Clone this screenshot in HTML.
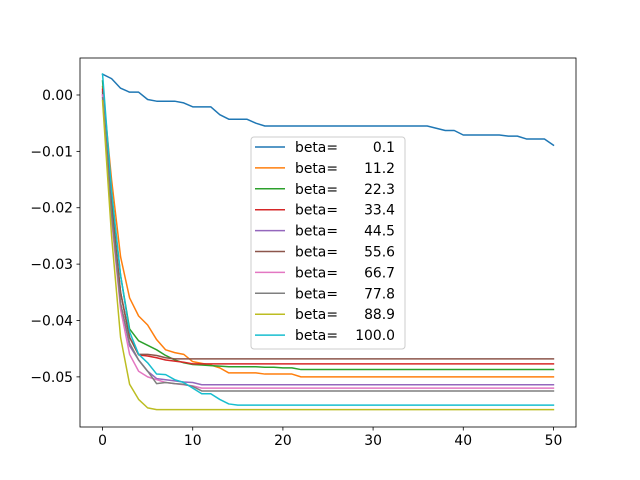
<!DOCTYPE html>
<html><head><meta charset="utf-8"><style>
body{margin:0;background:#fff;}
svg{display:block;font-family:"DejaVu Sans","Liberation Sans",sans-serif;}
</style></head><body>
<svg id="chart" width="640" height="480" xmlns="http://www.w3.org/2000/svg">
<rect width="640" height="480" fill="#fff"/>
<g id="plot"></g>
</svg>
<script>
const xTicks=[0,10,20,30,40,50];
const yTicks=[0.00,-0.01,-0.02,-0.03,-0.04,-0.05];
const yTickLabels=["0.00","\u22120.01","\u22120.02","\u22120.03","\u22120.04","\u22120.05"];
const betas=["0.1","11.2","22.3","33.4","44.5","55.6","66.7","77.8","88.9","100.0"];
const colors=["#1f77b4","#ff7f0e","#2ca02c","#d62728","#9467bd","#8c564b","#e377c2","#7f7f7f","#bcbd22","#17becf"];
const s0=[0.0037,0.0029,0.0012,0.0005,0.0005,-0.0008,-0.0011,-0.0011,-0.0011,-0.0014,-0.0021,-0.0021,-0.0021,-0.0035,-0.0043,-0.0043,-0.0043,-0.0050,-0.0055,-0.0055,-0.0055,-0.0055,-0.0055,-0.0055,-0.0055,-0.0055,-0.0055,-0.0055,-0.0055,-0.0055,-0.0055,-0.0055,-0.0055,-0.0055,-0.0055,-0.0055,-0.0055,-0.0059,-0.0063,-0.0063,-0.0071,-0.0071,-0.0071,-0.0071,-0.0071,-0.0073,-0.0073,-0.0078,-0.0078,-0.0078,-0.0089];
const s1=[0.0015,-0.015,-0.0287,-0.036,-0.0392,-0.0408,-0.0434,-0.0452,-0.0457,-0.046,-0.0473,-0.0476,-0.0479,-0.0484,-0.0493,-0.0493,-0.0493,-0.0493,-0.0495,-0.0495,-0.0495,-0.0495,-0.0500,-0.0500,-0.0500,-0.0500,-0.0500,-0.0500,-0.0500,-0.0500,-0.0500,-0.0500,-0.0500,-0.0500,-0.0500,-0.0500,-0.0500,-0.0500,-0.0500,-0.0500,-0.0500,-0.0500,-0.0500,-0.0500,-0.0500,-0.0500,-0.0500,-0.0500,-0.0500,-0.0500,-0.0500];
const s2=[0.0025,-0.018,-0.032,-0.0415,-0.0436,-0.0444,-0.0452,-0.0462,-0.047,-0.0475,-0.0478,-0.0479,-0.048,-0.0481,-0.0482,-0.0482,-0.0482,-0.0482,-0.0483,-0.0483,-0.0484,-0.0484,-0.0487,-0.0487,-0.0487,-0.0487,-0.0487,-0.0487,-0.0487,-0.0487,-0.0487,-0.0487,-0.0487,-0.0487,-0.0487,-0.0487,-0.0487,-0.0487,-0.0487,-0.0487,-0.0487,-0.0487,-0.0487,-0.0487,-0.0487,-0.0487,-0.0487,-0.0487,-0.0487,-0.0487,-0.0487];
const s3=[0.001,-0.02,-0.035,-0.043,-0.0461,-0.0463,-0.0466,-0.047,-0.0472,-0.0474,-0.0477,-0.0477,-0.0477,-0.0477,-0.0477,-0.0477,-0.0477,-0.0477,-0.0477,-0.0477,-0.0477,-0.0477,-0.0477,-0.0477,-0.0477,-0.0477,-0.0477,-0.0477,-0.0477,-0.0477,-0.0477,-0.0477,-0.0477,-0.0477,-0.0477,-0.0477,-0.0477,-0.0477,-0.0477,-0.0477,-0.0477,-0.0477,-0.0477,-0.0477,-0.0477,-0.0477,-0.0477,-0.0477,-0.0477,-0.0477,-0.0477];
const s4=[0.0,-0.021,-0.037,-0.0445,-0.047,-0.049,-0.0503,-0.0505,-0.0507,-0.0509,-0.051,-0.0514,-0.0514,-0.0514,-0.0514,-0.0514,-0.0514,-0.0514,-0.0514,-0.0514,-0.0514,-0.0514,-0.0514,-0.0514,-0.0514,-0.0514,-0.0514,-0.0514,-0.0514,-0.0514,-0.0514,-0.0514,-0.0514,-0.0514,-0.0514,-0.0514,-0.0514,-0.0514,-0.0514,-0.0514,-0.0514,-0.0514,-0.0514,-0.0514,-0.0514,-0.0514,-0.0514,-0.0514,-0.0514,-0.0514,-0.0514];
const s5=[0.0005,-0.02,-0.035,-0.043,-0.046,-0.046,-0.0462,-0.0466,-0.0468,-0.0468,-0.0468,-0.0468,-0.0468,-0.0468,-0.0468,-0.0468,-0.0468,-0.0468,-0.0468,-0.0468,-0.0468,-0.0468,-0.0468,-0.0468,-0.0468,-0.0468,-0.0468,-0.0468,-0.0468,-0.0468,-0.0468,-0.0468,-0.0468,-0.0468,-0.0468,-0.0468,-0.0468,-0.0468,-0.0468,-0.0468,-0.0468,-0.0468,-0.0468,-0.0468,-0.0468,-0.0468,-0.0468,-0.0468,-0.0468,-0.0468,-0.0468];
const s6=[0.0,-0.022,-0.038,-0.046,-0.049,-0.050,-0.0505,-0.051,-0.0512,-0.0514,-0.0516,-0.052,-0.052,-0.052,-0.052,-0.052,-0.052,-0.052,-0.052,-0.052,-0.052,-0.052,-0.052,-0.052,-0.052,-0.052,-0.052,-0.052,-0.052,-0.052,-0.052,-0.052,-0.052,-0.052,-0.052,-0.052,-0.052,-0.052,-0.052,-0.052,-0.052,-0.052,-0.052,-0.052,-0.052,-0.052,-0.052,-0.052,-0.052,-0.052,-0.052];
const s7=[-0.0005,-0.021,-0.037,-0.044,-0.047,-0.049,-0.0512,-0.051,-0.0512,-0.0513,-0.0517,-0.0525,-0.0525,-0.0525,-0.0525,-0.0525,-0.0525,-0.0525,-0.0525,-0.0525,-0.0525,-0.0525,-0.0525,-0.0525,-0.0525,-0.0525,-0.0525,-0.0525,-0.0525,-0.0525,-0.0525,-0.0525,-0.0525,-0.0525,-0.0525,-0.0525,-0.0525,-0.0525,-0.0525,-0.0525,-0.0525,-0.0525,-0.0525,-0.0525,-0.0525,-0.0525,-0.0525,-0.0525,-0.0525,-0.0525,-0.0525];
const s8=[-0.001,-0.025,-0.043,-0.0513,-0.054,-0.0555,-0.0558,-0.0558,-0.0558,-0.0558,-0.0558,-0.0558,-0.0558,-0.0558,-0.0558,-0.0558,-0.0558,-0.0558,-0.0558,-0.0558,-0.0558,-0.0558,-0.0558,-0.0558,-0.0558,-0.0558,-0.0558,-0.0558,-0.0558,-0.0558,-0.0558,-0.0558,-0.0558,-0.0558,-0.0558,-0.0558,-0.0558,-0.0558,-0.0558,-0.0558,-0.0558,-0.0558,-0.0558,-0.0558,-0.0558,-0.0558,-0.0558,-0.0558,-0.0558,-0.0558,-0.0558];
const s9=[0.0037,-0.017,-0.032,-0.042,-0.046,-0.0475,-0.0495,-0.0496,-0.0505,-0.051,-0.052,-0.053,-0.053,-0.054,-0.0548,-0.055,-0.055,-0.055,-0.055,-0.055,-0.055,-0.055,-0.055,-0.055,-0.055,-0.055,-0.055,-0.055,-0.055,-0.055,-0.055,-0.055,-0.055,-0.055,-0.055,-0.055,-0.055,-0.055,-0.055,-0.055,-0.055,-0.055,-0.055,-0.055,-0.055,-0.055,-0.055,-0.055,-0.055,-0.055,-0.055];
const series=[s0,s1,s2,s3,s4,s5,s6,s7,s8,s9];

const L=80,R=576,T=58,B=427;
const xMin=-2.5,xMax=52.5,yMin=-0.05889,yMax=0.00656;
const xs=v=>L+(v-xMin)/(xMax-xMin)*(R-L);
const ys=v=>B-(v-yMin)/(yMax-yMin)*(B-T);
const NS="http://www.w3.org/2000/svg";
const g=document.getElementById('plot');
function mk(tag,attrs,parent){const e=document.createElementNS(NS,tag);for(const k in attrs)e.setAttribute(k,attrs[k]);(parent||g).appendChild(e);return e;}

series.forEach((s,i)=>{
  const pts=s.map((v,j)=>xs(j).toFixed(2)+','+ys(v).toFixed(2)).join(' ');
  const p=mk('polyline',{points:pts,fill:'none',stroke:colors[i],'stroke-width':1.5,'stroke-linejoin':'round','stroke-linecap':'square'});
  
  
});
const frame=mk('rect',{x:L,y:T,width:R-L,height:B-T,fill:'none',stroke:'#000','stroke-width':0.8});


xTicks.forEach(t=>{
  const x=xs(t);
  const tk=mk('line',{x1:x,x2:x,y1:B,y2:B+3.5,stroke:'#000','stroke-width':0.8});
  
  
  const tx=mk('text',{x:x,y:B+18,'font-size':'13.9','text-anchor':'middle',fill:'#000'});
  tx.textContent=t;
  
  
});
yTicks.forEach((t,i)=>{
  const y=ys(t);
  const tk=mk('line',{x1:L-3.5,x2:L,y1:y,y2:y,stroke:'#000','stroke-width':0.8});
  
  
  const tx=mk('text',{x:L-7,y:y+5,'font-size':'13.9','text-anchor':'end',fill:'#000'});
  tx.textContent=yTickLabels[i];
  
  
});
const lg=mk('g',{});


mk('rect',{x:251,y:137,width:154,height:212,rx:3,fill:'#fff','fill-opacity':0.8,stroke:'#ccc','stroke-width':1},lg);
betas.forEach((b,i)=>{
  const y=147+i*20.9;
  const e=mk('g',{},lg);
  
  
  mk('line',{x1:255,x2:285,y1:y,y2:y,stroke:colors[i],'stroke-width':1.5},e);
  const t1=mk('text',{x:295,y:y+5,'font-size':'13.9',fill:'#000'},e);
  t1.textContent='beta=';
  const t2=mk('text',{x:395,y:y+5,'font-size':'13.9','text-anchor':'end',fill:'#000'},e);
  t2.textContent=b;
});
</script>
</body></html>
